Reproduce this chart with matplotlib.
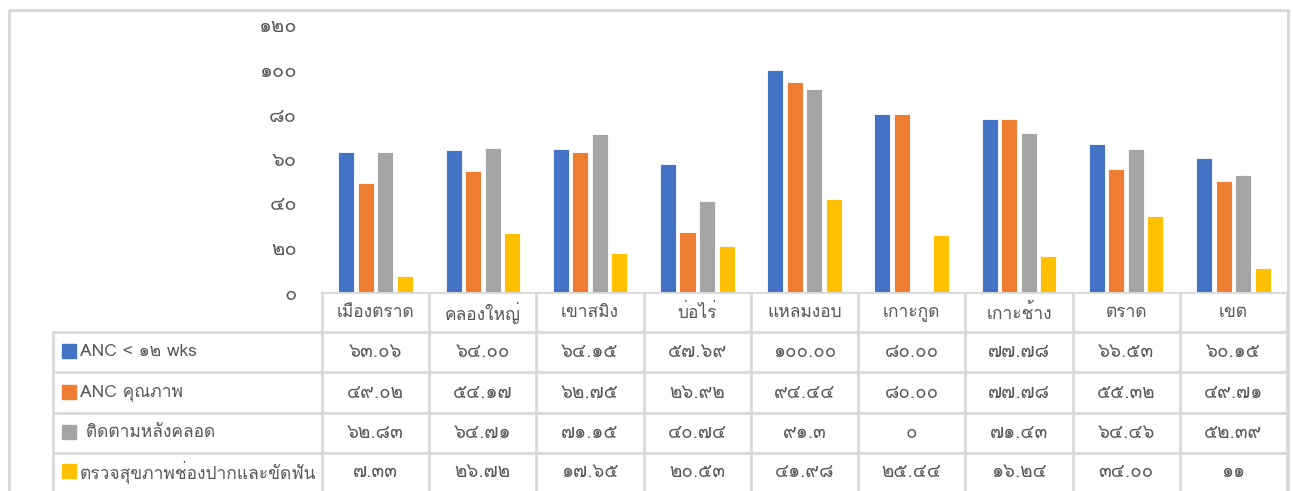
import matplotlib
matplotlib.use("Agg")
import matplotlib.pyplot as plt
from matplotlib import font_manager as fm
from matplotlib.ft2font import FT2Font
from matplotlib.transforms import blended_transform_factory
from matplotlib.patches import Rectangle

# ข้อมูลจากตาราง (ค่าตามที่แสดง)
amphoe = ["เมืองตราด", "คลองใหญ่", "เขาสมิง", "บ่อไร่", "แหลมงอบ",
          "เกาะกูด", "เกาะช้าง", "ตราด", "เขต"]
series_names = ["ANC < 12 wks", "ANC คุณภาพ", " ติดตามหลังคลอด",
                "ตรวจสุขภาพช่องปากและขัดฟัน"]
anc12 = ["63.06", "64.00", "64.15", "57.69", "100.00", "80.00", "77.78", "66.53", "60.15"]
anc_q = ["49.02", "54.17", "62.75", "26.92", "94.44", "80.00", "77.78", "55.32", "49.71"]
postnatal = ["62.83", "64.71", "71.15", "40.74", "91.3", "0", "71.43", "64.46", "52.39"]
dental = ["7.33", "26.72", "17.65", "20.53", "41.98", "25.44", "16.24", "34.00", "11"]
yticks = [0, 20, 40, 60, 80, 100, 120]

colors = ["#4472C4", "#ED7D31", "#A5A5A5", "#FFC000"]
txt = "#595959"
grid = "#D9D9D9"

thai = str.maketrans("0123456789", "๐๑๒๓๔๕๖๗๘๙")


def thai_font():
    for f in fm.fontManager.ttflist:
        try:
            cmap = FT2Font(f.fname).get_charmap()
        except Exception:
            continue
        if 0x0E01 in cmap and 0x0E51 in cmap:
            return f.name
    return None


tf = thai_font()
plt.rcParams["font.family"] = ([tf] if tf else []) + ["DejaVu Sans"]

W, H = 1293, 491
fig = plt.figure(figsize=(W / 100, H / 100), dpi=100)

# overlay in pixel coordinates
over = fig.add_axes([0, 0, 1, 1])
over.set_xlim(0, W)
over.set_ylim(H, 0)
over.axis("off")

x0, x1, y0, y1 = 322, 1287, 292, 25
ax = fig.add_axes([x0 / W, 1 - y0 / H, (x1 - x0) / W, (y0 - y1) / H])
ax.set_xlim(-0.5, len(amphoe) - 0.5)
ax.set_ylim(0, 120)
for s in ax.spines.values():
    s.set_visible(False)
ax.set_xticks([])
ax.set_yticks(yticks)
ax.set_yticklabels([str(v).translate(thai) for v in yticks], color=txt, fontsize=14.5)
ax.tick_params(axis="y", length=0, pad=18)

all_series = [anc12, anc_q, postnatal, dental]
bw, step = 0.15, 0.182
for k, ser in enumerate(all_series):
    vals = [float(v) for v in ser]
    xs = [i + (k - 1.5) * step for i in range(len(amphoe))]
    ax.bar(xs, vals, width=bw, color=colors[k], edgecolor="white", linewidth=0.6)

# outer chart border
over.add_patch(Rectangle((9, 10), 1278.5, 500, fill=False, edgecolor=grid, lw=2.2))

# data table
tr = blended_transform_factory(ax.transData, over.transData)
rows_y = [292, 332, 372, 413, 453, 500]
n = len(amphoe)
over.plot([x0, x1], [rows_y[0], rows_y[0]], color=grid, lw=2)
for yy in rows_y[1:5]:
    over.plot([53, x1], [yy, yy], color=grid, lw=2)
for i in range(n + 1):
    over.plot([i - 0.5, i - 0.5], [rows_y[0], H], color=grid, lw=2, transform=tr)
over.plot([53, 53], [rows_y[1], H], color=grid, lw=2)

for i, name in enumerate(amphoe):
    over.text(i, (rows_y[0] + rows_y[1]) / 2 + 1, name, transform=tr, ha="center",
              va="center", color=txt, fontsize=12.5)
for r, ser in enumerate(all_series):
    yc = (rows_y[r + 1] + rows_y[r + 2]) / 2
    if r == 3:
        yc = 472
    for i, v in enumerate(ser):
        over.text(i, yc, v.translate(thai), transform=tr, ha="center",
                  va="center", color=txt, fontsize=13.5)
    over.add_patch(Rectangle((62, yc - 8), 14, 14, color=colors[r]))
    over.text(80, yc, series_names[r].translate(thai), ha="left", va="center",
              color=txt, fontsize=12.5)

fig.savefig("out.png", dpi=100)
